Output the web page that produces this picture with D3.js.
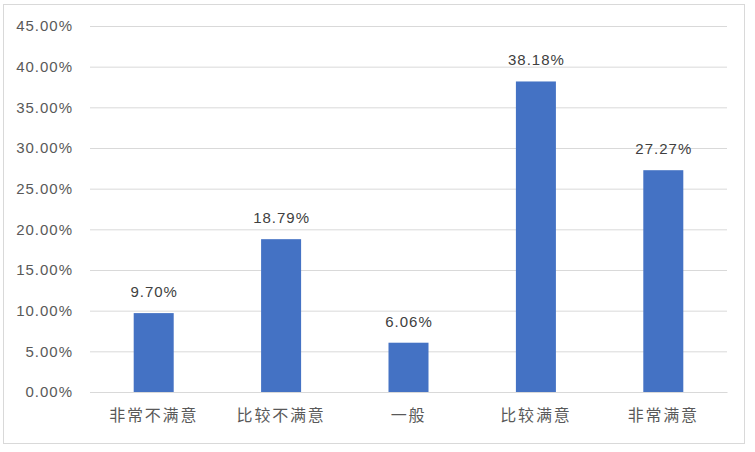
<!DOCTYPE html>
<html>
<head>
<meta charset="utf-8">
<script src="https://cdn.jsdelivr.net/npm/d3@7"></script>
<style>
  body { margin: 0; background: #fff; }
  text { font-family: "Noto Sans CJK SC", "Liberation Sans", sans-serif; }
</style>
</head>
<body>
<svg id="chart"></svg>
<script>
const categories = ["非常不满意", "比较不满意", "一般", "比较满意", "非常满意"];
const values = [9.70, 18.79, 6.06, 38.18, 27.27];
const yTicks = [0, 5, 10, 15, 20, 25, 30, 35, 40, 45];

const W = 755, H = 452;
const m = { left: 90, right: 28, top: 26, bottom: 60 };

const svg = d3.select("#chart").attr("width", W).attr("height", H);

// outer frame
svg.append("rect")
  .attr("x", 3.5).attr("y", 4.5)
  .attr("width", 741).attr("height", 439)
  .attr("fill", "#fff").attr("stroke", "#d9d9d9");

const x = d3.scaleBand()
  .domain(categories)
  .range([m.left, W - m.right])
  .paddingInner(0.686)
  .paddingOuter(0.343);

const y = d3.scaleLinear()
  .domain([0, 45])
  .range([H - m.bottom, m.top]);

// gridlines + y labels
const yAxis = d3.axisLeft(y)
  .tickValues(yTicks)
  .tickSize(-(W - m.right - m.left))
  .tickFormat(d => d.toFixed(2) + "%");

const gy = svg.append("g")
  .attr("transform", `translate(${m.left},0)`)
  .call(yAxis);
gy.select(".domain").remove();
gy.selectAll(".tick line").attr("stroke", "#d9d9d9");
gy.selectAll(".tick text")
  .attr("x", -17)
  .attr("fill", "#595959")
  .style("font-size", "15px")
  .style("letter-spacing", "1px")
  .style("font-family", "'Liberation Sans', sans-serif");

// bars
svg.selectAll(".bar")
  .data(values)
  .join("rect")
  .attr("class", "bar")
  .attr("x", (v, i) => x(categories[i]))
  .attr("y", v => y(v))
  .attr("width", x.bandwidth())
  .attr("height", v => y(0) - y(v))
  .attr("fill", "#4472c4");

// value labels
svg.selectAll(".lbl")
  .data(values)
  .join("text")
  .attr("class", "lbl")
  .attr("x", (v, i) => x(categories[i]) + x.bandwidth() / 2 + 0.5)
  .attr("y", v => y(v) - 16)
  .attr("text-anchor", "middle")
  .attr("fill", "#404040")
  .style("font-size", "15px")
  .style("letter-spacing", "1px")
  .style("font-family", "'Liberation Sans', sans-serif")
  .text(v => v.toFixed(2) + "%");

// x axis
const xAxis = d3.axisBottom(x).tickSize(0).tickPadding(18);
const gx = svg.append("g")
  .attr("transform", `translate(0,${H - m.bottom})`)
  .call(xAxis);
gx.select(".domain").attr("stroke", "#d9d9d9");
gx.selectAll(".tick text")
  .attr("fill", "#595959")
  .style("font-size", "16px")
  .style("letter-spacing", "1.8px");
</script>
</body>
</html>
